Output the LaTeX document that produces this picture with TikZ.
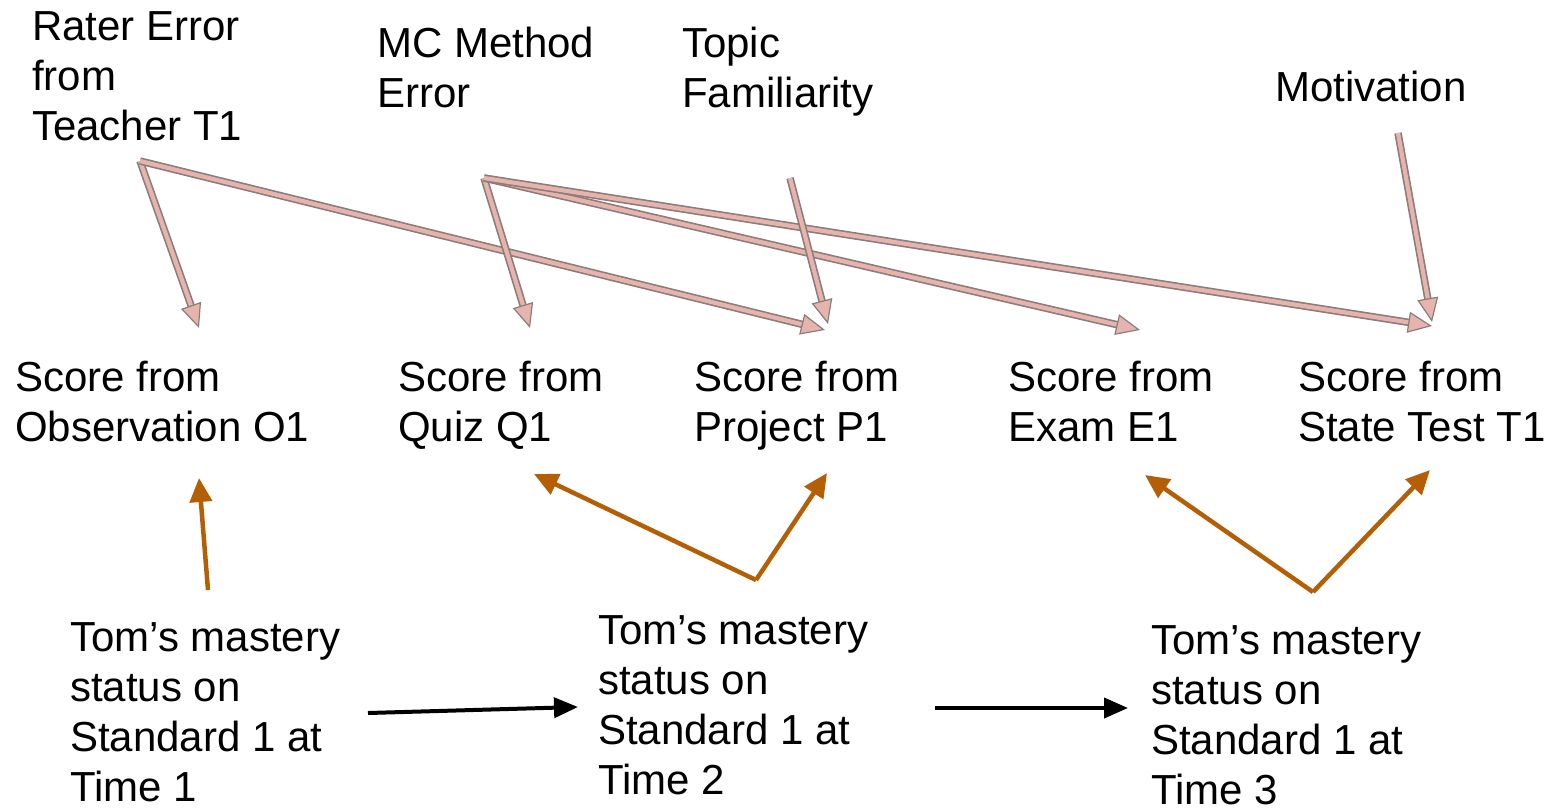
\documentclass[tikz,border=0pt]{standalone}
\usepackage{fontspec}
\setmainfont{Liberation Sans}
\usetikzlibrary{arrows.meta,calc}
\definecolor{pinkc}{RGB}{230,180,172}
\definecolor{pinkedge}{RGB}{140,125,125}
\definecolor{brownc}{RGB}{180,95,6}
\tikzset{
  lbl/.style={anchor=base west, inner sep=0pt, align=left, font=\fontsize{42}{50}\selectfont},
  pinkout/.style={draw=pinkedge, line width=7.5pt, shorten >=18pt},
  pinkin/.style={draw=pinkc, line width=4.2pt, shorten >=18pt},
  pinktip/.style={draw=pinkedge, line width=1.2pt, -{Triangle[length=24pt,width=21pt,fill=pinkc,line width=1.2pt]}},
  brownarrow/.style={draw=brownc, line width=4.5pt, -{Triangle[length=24pt,width=22pt]}},
  blackarrow/.style={draw=black, line width=4pt, -{Triangle[length=24pt,width=20pt]}}
}
\newcommand{\pinkarrow}[2]{%
  \draw[pinkout] (#1) -- (#2);
  \draw[pinkin] (#1) -- (#2);
  \draw[pinktip] ($(#2)!12pt!(#1)$) -- (#2);
}
\begin{document}
\begin{tikzpicture}[x=1pt,y=-1pt]
\useasboundingbox (0,0) rectangle (1562,807);
% top labels (base anchor = baseline of last line)
\node[lbl] (rater) at (32,140) {Rater Error\\from\\Teacher T1};
\node[lbl] (mc) at (377,107) {MC Method\\Error};
\node[lbl] (topic) at (682,107) {Topic\\Familiarity};
\node[lbl] (motiv) at (1275,101) {Motivation};
% scores
\node[lbl] (o1) at (15,441) {Score from\\Observation O1};
\node[lbl] (q1) at (398,441) {Score from\\Quiz Q1};
\node[lbl] (p1) at (694,441) {Score from\\Project P1};
\node[lbl] (e1) at (1008,441) {Score from\\Exam E1};
\node[lbl] (t1) at (1298,441) {Score from\\State Test T1};
% mastery
\node[lbl] (tom1) at (70,801) {Tom’s mastery\\status on\\Standard 1 at\\Time 1};
\node[lbl] (tom2) at (598,794) {Tom’s mastery\\status on\\Standard 1 at\\Time 2};
\node[lbl] (tom3) at (1151,804) {Tom’s mastery\\status on\\Standard 1 at\\Time 3};
% coordinates
\coordinate (rj) at (140,161);
\coordinate (mj) at (484,178);
\coordinate (tj) at (790,178);
\coordinate (mvj) at (1398,133);
\coordinate (o1a) at (199,328);
\coordinate (q1a) at (530,328);
\coordinate (p1a) at (825,330);
\coordinate (p1b) at (828,324);
\coordinate (e1a) at (1140,330);
\coordinate (t1a) at (1432,326);
\coordinate (t1b) at (1432,322);
\coordinate (b1s) at (208,590);
\coordinate (b1e) at (199,478);
\coordinate (b2j) at (756,580);
\coordinate (b2l) at (534,474);
\coordinate (b2r) at (827,473);
\coordinate (b3j) at (1313,592);
\coordinate (b3l) at (1145,475);
\coordinate (b3r) at (1430,470);
\coordinate (k1s) at (368,713);
\coordinate (k1e) at (578,707);
\coordinate (k2s) at (935,708);
\coordinate (k2e) at (1128,708);
% pink arrows
\pinkarrow{rj}{o1a}
\pinkarrow{rj}{p1a}
\pinkarrow{mj}{q1a}
\pinkarrow{mj}{e1a}
\pinkarrow{mj}{t1a}
\pinkarrow{tj}{p1b}
\pinkarrow{mvj}{t1b}
% brown arrows
\draw[brownarrow] (b1s) -- (b1e);
\draw[brownarrow] (b2j) -- (b2l);
\draw[brownarrow] (b2j) -- (b2r);
\draw[brownarrow] (b3j) -- (b3l);
\draw[brownarrow] (b3j) -- (b3r);
% black arrows
\draw[blackarrow] (k1s) -- (k1e);
\draw[blackarrow] (k2s) -- (k2e);
\end{tikzpicture}
\end{document}
